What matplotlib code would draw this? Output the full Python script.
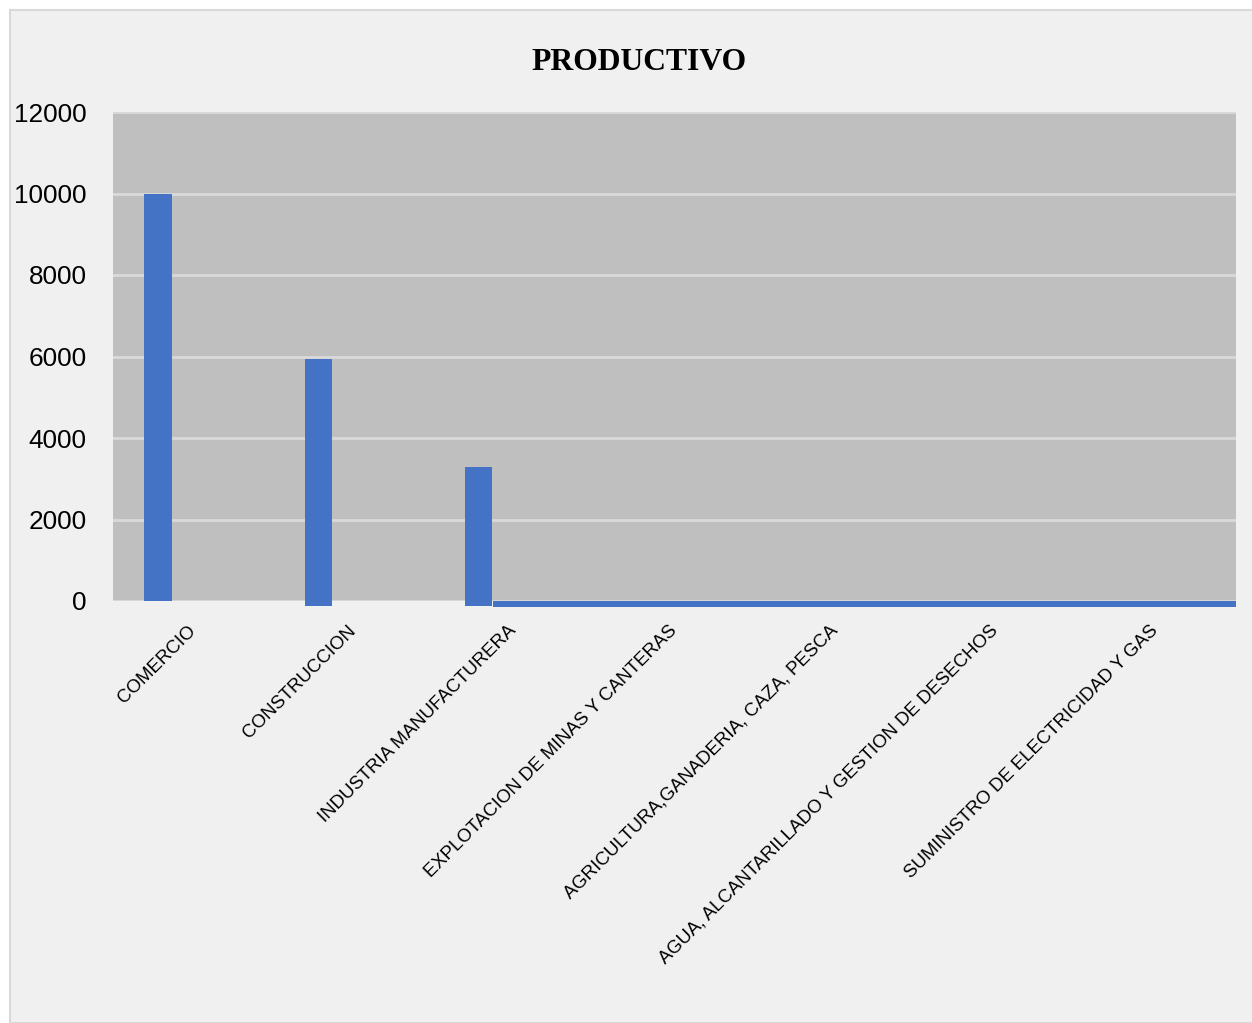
import matplotlib

matplotlib.use("Agg")
import matplotlib.pyplot as plt
import matplotlib.transforms as mtransforms
from matplotlib.patches import Rectangle
import numpy as np

# Data
categories = [
    "COMERCIO",
    "CONSTRUCCION",
    "INDUSTRIA MANUFACTURERA",
    "EXPLOTACION DE MINAS Y CANTERAS",
    "AGRICULTURA,GANADERIA, CAZA, PESCA",
    "AGUA, ALCANTARILLADO Y GESTION DE DESECHOS",
    "SUMINISTRO DE ELECTRICIDAD Y GAS",
]
values = [10000, 5950, 3300, 0, 0, 0, 0]
bar_bottoms = [0, -120, -120, 0, 0, 0, 0]
strip_depth = -140  # thin band drawn along the baseline after the last bar
yticks = [0, 2000, 4000, 6000, 8000, 10000, 12000]

BLUE = "#4472C4"
PLOT_BG = "#BFBFBF"
FIG_BG = "#F0F0F0"

fig = plt.figure(figsize=(12.52, 10.23), dpi=100, facecolor="white")
fig.patches.append(
    Rectangle((10 / 1252, 0), 1.0, 1 - 10 / 1023, transform=fig.transFigure,
              facecolor=FIG_BG, edgecolor="#D9D9D9", linewidth=1.5, zorder=-10)
)

ax = fig.add_axes([113 / 1252, 1 - 601 / 1023, 1123 / 1252, 489 / 1023])
ax.set_facecolor(PLOT_BG)

x = np.arange(len(categories))
offset = -0.22
width = 0.17
heights = [v - b if v > 0 else 0 for v, b in zip(values, bar_bottoms)]
ax.bar(x + offset, heights, width, bottom=bar_bottoms, color=BLUE,
       zorder=3, clip_on=False)

# band from the edge of the last non-zero bar to the end of the axis
last = max(i for i, v in enumerate(values) if v > 0)
start = x[last] + offset + width / 2 + 0.005
ax.bar(start, strip_depth, len(categories) - 0.5 - start, align="edge",
       color=BLUE, zorder=3, clip_on=False)

ax.set_xlim(-0.5, len(categories) - 0.5)
ax.set_ylim(0, 12000)
ax.set_yticks(yticks)
ax.set_yticklabels([str(t) for t in yticks], fontsize=18.8, family="Liberation Sans")
ax.yaxis.grid(True, color="#D9D9D9", linewidth=2, zorder=1)
ax.set_axisbelow(True)
ax.tick_params(axis="y", length=0, pad=19)
ax.tick_params(axis="x", length=0, pad=15)
ax.set_xticks(x)
ax.set_xticklabels(categories, rotation=45, ha="right", va="top",
                   rotation_mode="anchor", fontsize=13.4, family="Liberation Sans")
shift = mtransforms.ScaledTranslation(-6 / 100, 0, fig.dpi_scale_trans)
for lbl in ax.get_xticklabels():
    lbl.set_transform(lbl.get_transform() + shift)
for s in ax.spines.values():
    s.set_visible(False)

fig.text(639 / 1252, 1 - 63 / 1023, "PRODUCTIVO", ha="center", va="center",
         fontsize=22.8, fontweight="bold", family="Liberation Serif")

fig.savefig("out.png", dpi=100, facecolor="white")
